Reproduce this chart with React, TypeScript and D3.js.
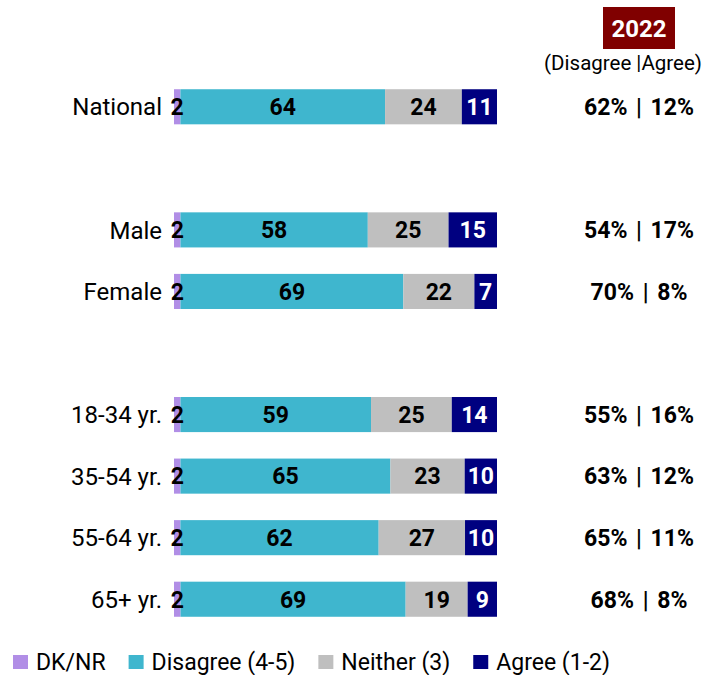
import React, { useRef, useEffect } from 'react';
import * as d3 from 'd3';

// rows of the chart, with empty slots used as spacers between groups
const slots = ['National', 'gap1', 'Male', 'Female', 'gap2', '18-34 yr.', '35-54 yr.', '55-64 yr.', '65+ yr.'];
const categories = ['National', 'Male', 'Female', '18-34 yr.', '35-54 yr.', '55-64 yr.', '65+ yr.'];

const dkNr = [2, 2, 2, 2, 2, 2, 2];
const disagree = [64, 58, 69, 59, 65, 62, 69];
const neither = [24, 25, 22, 25, 23, 27, 19];
const agree = [11, 15, 7, 14, 10, 10, 9];

const summary = ['62% | 12%', '54% | 17%', '70% | 8%', '55% | 16%', '63% | 12%', '65% | 11%', '68% | 8%'];

const seriesKeys = ['dk', 'disagree', 'neither', 'agree'];
const seriesNames = ['DK/NR', 'Disagree (4-5)', 'Neither (3)', 'Agree (1-2)'];
const colors = ['#b18ee6', '#3fb6ce', '#bfbfbf', '#000080'];
const labelColors = ['#000', '#000', '#000', '#fff'];

const FONT = 'Roboto, Lato, sans-serif';

const App = () => {
  const ref = useRef<SVGSVGElement>(null);

  useEffect(() => {
    document.body.style.margin = '0';
    const width = 705;
    const height = 675;

    const rows = categories.map((c, i) => ({
      cat: c,
      dk: dkNr[i],
      disagree: disagree[i],
      neither: neither[i],
      agree: agree[i],
    }));

    const svg = d3.select(ref.current);
    svg.selectAll('*').remove();
    svg.attr('width', width).attr('height', height);

    const x = d3.scaleLinear().domain([0, 1]).range([174, 497]);
    const y = d3.scaleBand<string>().domain(slots).range([76, 630])
      .paddingInner(0.43).paddingOuter(0.215);

    const stacked = d3.stack<any>().keys(seriesKeys).offset(d3.stackOffsetExpand)(rows);

    const layers = svg.append('g').selectAll('g')
      .data(stacked)
      .join('g')
      .attr('fill', (d, i) => colors[i]);

    layers.selectAll('rect')
      .data(d => d)
      .join('rect')
      .attr('x', d => x(d[0]))
      .attr('width', d => x(d[1]) - x(d[0]))
      .attr('y', d => y(d.data.cat)!)
      .attr('height', y.bandwidth());

    const labels = svg.append('g').selectAll('g')
      .data(stacked)
      .join('g')
      .attr('fill', (d, i) => labelColors[i]);

    labels.selectAll('text')
      .data((d) => d.map(v => ({ v, key: d.key })))
      .join('text')
      .attr('x', d => (x(d.v[0]) + x(d.v[1])) / 2)
      .attr('y', d => y(d.v.data.cat)! + y.bandwidth() / 2)
      .attr('dy', '0.36em')
      .attr('text-anchor', 'middle')
      .attr('font-family', FONT)
      .attr('font-weight', 'bold')
      .attr('font-size', 23)
      .text(d => d.v.data[d.key]);

    // category labels
    svg.append('g').selectAll('text')
      .data(categories)
      .join('text')
      .attr('x', 162)
      .attr('y', d => y(d)! + y.bandwidth() / 2)
      .attr('dy', '0.36em')
      .attr('text-anchor', 'end')
      .attr('font-family', FONT)
      .attr('font-size', 24)
      .attr('fill', '#000')
      .text(d => d);

    // summary column
    svg.append('g').selectAll('text')
      .data(categories)
      .join('text')
      .attr('x', 639)
      .attr('y', d => y(d)! + y.bandwidth() / 2)
      .attr('dy', '0.36em')
      .attr('text-anchor', 'middle')
      .attr('font-family', FONT)
      .attr('font-weight', 'bold')
      .attr('font-size', 23)
      .attr('word-spacing', 3)
      .attr('fill', '#000')
      .text((d, i) => summary[i]);

    // header
    svg.append('rect')
      .attr('x', 603).attr('y', 7).attr('width', 72).attr('height', 42)
      .attr('fill', '#800000');
    svg.append('text')
      .attr('x', 639).attr('y', 28).attr('dy', '0.36em')
      .attr('text-anchor', 'middle')
      .attr('font-family', FONT).attr('font-weight', 'bold').attr('font-size', 24)
      .attr('fill', '#fff')
      .text('2022');
    svg.append('text')
      .attr('x', 623).attr('y', 70)
      .attr('text-anchor', 'middle')
      .attr('font-family', FONT).attr('font-size', 20.5)
      .attr('fill', '#000')
      .text('(Disagree |Agree)');

    // legend
    const legend = svg.append('g').attr('transform', 'translate(13,655)');
    let lx = 0;
    seriesNames.forEach((name, i) => {
      const item = legend.append('g').attr('transform', `translate(${lx},0)`);
      item.append('rect').attr('width', 15).attr('height', 14).attr('fill', colors[i]);
      const t = item.append('text')
        .attr('x', 23).attr('y', 15)
        .attr('font-family', FONT).attr('font-size', 23)
        .attr('fill', '#000')
        .text(name);
      const w = (t.node() as SVGTextElement).getComputedTextLength();
      lx += 23 + w + 23;
    });
  }, []);

  return <svg ref={ref} style={{ display: 'block' }} />;
};

export default App;
